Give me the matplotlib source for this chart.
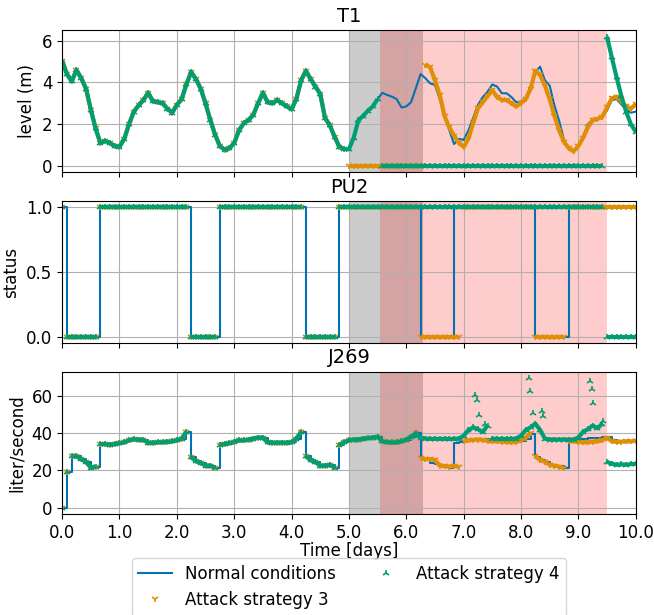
import numpy as np
import matplotlib.pyplot as plt

# time axis: one sample every 2 hours over 10 days
t = np.arange(121) / 12.0

# T1 tank level (m)
t1_normal = [5.04, 4.4, 4.05, 4.59, 4.2, 3.7, 2.7, 1.8, 1.1, 1.2, 1.1, 0.95,
             0.92, 1.3, 2.0, 2.6, 2.9, 3.15, 3.5, 3.1, 3.05, 3.0, 2.75, 2.55,
             2.92, 3.2, 3.9, 4.5, 4.15, 3.7, 3.0, 2.2, 1.5, 0.95, 0.78, 0.85,
             1.1, 1.7, 2.05, 2.2, 2.45, 3.0, 3.5, 3.05, 3.0, 3.15, 3.0, 2.85,
             2.72, 3.2, 4.1, 4.55, 4.15, 3.8, 3.45, 2.3, 1.95, 1.4, 0.92, 0.8,
             0.8, 1.35, 2.2, 2.4, 2.65, 2.85, 3.2, 3.5, 3.4, 3.32, 3.2, 2.8,
             2.85, 3.05, 3.72, 4.4, 4.2, 3.95, 3.88, 3.2, 2.4, 1.72, 1.05, 1.3,
             1.25, 1.7, 2.3, 2.92, 3.3, 3.55, 3.9, 3.8, 3.48, 3.48, 3.3, 3.05,
             3.08, 3.25, 3.8, 4.5, 4.75, 4.1, 3.85, 2.9, 2.15, 1.25, 0.85, 0.7,
             0.95, 1.4, 2.0, 2.22, 2.28, 2.4, 2.65, 3.15, 3.2, 2.95, 2.7, 2.55,
             2.6]
t1_att3_tail = [4.85, 4.72, 4.1, 3.4, 2.4, 1.85, 1.45, 1.1, 0.92, 1.3, 2.05, 2.76,
                3.05, 3.35, 3.62, 3.3, 3.16, 3.16, 3.0, 2.85, 3.0, 3.2, 3.7, 4.55,
                4.35, 3.85, 3.2, 2.4, 1.7, 1.15, 0.85, 0.7, 0.95, 1.35, 1.85, 2.2,
                2.25, 2.35, 2.8, 3.24, 3.32, 3.1, 2.85, 2.75, 2.95]
t1_att4_tail = [6.19, 5.2, 4.25, 3.35, 2.6, 2.0, 1.64]
t1_att3 = t1_normal[:60] + [0.0] * 16 + t1_att3_tail
t1_att4 = t1_normal[:67] + [0.0] * 47 + t1_att4_tail

# PU2 pump status, as (value, number of samples)
pu2_normal_runs = [(1, 1), (0, 7), (1, 19), (0, 6), (1, 18), (0, 7), (1, 17),
                   (0, 7), (1, 17), (0, 7), (1, 15)]
pu2_att3_runs = [(1, 1), (0, 7), (1, 19), (0, 6), (1, 18), (0, 7), (1, 17),
                 (0, 9), (1, 15), (0, 7), (1, 15)]
pu2_att4_runs = [(1, 1), (0, 7), (1, 19), (0, 6), (1, 18), (0, 7), (1, 56), (0, 7)]


def expand(runs):
    return np.repeat([v for v, n in runs], [n for v, n in runs])


pu2_normal = expand(pu2_normal_runs)
pu2_att3 = expand(pu2_att3_runs)
pu2_att4 = expand(pu2_att4_runs)

# J269 flow (liter/second)
j269_normal = [0, 19, 27.5, 27.5, 26, 24.5, 21.5, 22, 34, 34, 33.8, 34,
               34.5, 35, 36, 36.6, 36.5, 36.3, 34.8, 34.8, 35, 35, 35.3, 35.5,
               36, 37, 40.5, 27, 25, 24, 22.5, 22.5, 21.5, 33.8, 34, 34.5,
               35.2, 36, 36, 36.5, 37, 37.5, 37.5, 35, 34.8, 34.8, 34.8, 34.8,
               35, 37, 40.5, 27.5, 25.5, 24.5, 22.5, 22.5, 23, 21.5, 33.6, 35,
               36, 36.5, 36.5, 37, 37.2, 37.5, 38, 35.5, 35, 34.9, 34.9, 35.5,
               36.5, 38, 39.8, 26.5, 25.5, 24, 23.5, 22.5, 22, 21.5, 34.5, 35,
               35.5, 36, 36.3, 36.5, 36.8, 37, 37.2, 35.5, 35.2, 35, 35, 35.2,
               35.5, 37, 39.5, 27.3, 25.5, 24.6, 23, 22.5, 22.5, 21, 36.3, 36.5,
               36.8, 37, 37.2, 37.5, 37.5, 37.8, 38, 36.5, 35.5, 35.5, 35.5, 35.8,
               36]
j269_att3_tail = [26.5, 26, 26, 25.5, 22.5, 22.3, 22, 22.5, 21.8, 35.5, 36, 36.3,
                  36.5, 36.3, 35.8, 35.5, 35.5, 35.3, 35.2, 35, 35.2, 36, 37.5, 40,
                  27.5, 25.5, 24.5, 23, 22.5, 22, 21, 35.5, 35.5, 35.2, 35, 35,
                  35.3, 35.5, 36, 37.5, 35.5, 35.2, 35.3, 35.5, 35.5, 35.8]
j269_att4_tail = [37.5, 37, 36.8, 36.8, 36.8, 36.8, 36.8, 36.8, 37, 38.5, 41.5, 43,
                  42, 40.5, 44, 37, 36.8, 36.8, 36.8, 36.8, 37, 38.5, 41.6, 43,
                  45, 41.6, 37, 36.5, 36.5, 36.5, 36.5, 36.5, 36.5, 37.5, 40.7, 42,
                  44, 42.5, 45, 24.5, 23.5, 23, 23.2, 23, 23.3, 23.5]
j269_att3 = j269_normal[:75] + j269_att3_tail
j269_att4 = j269_normal[:75] + j269_att4_tail
# isolated spikes of attack 4
spike_t = [7.19, 7.24, 7.27, 7.37, 8.14, 8.16, 8.21, 8.36, 8.39, 9.2, 9.23, 9.26, 9.43]
spike_v = [60.4, 57.7, 49.6, 45.0, 69.3, 62.7, 50.6, 52.0, 49.0, 68.0, 63.6, 56.0, 46.5]

blue, orange, green = '#0173b2', '#de8f05', '#029e73'


def band(ax, x, y, thr, color, marker, label=None):
    # dense marker trace: a thick stroke between close samples, markers on top
    x = np.asarray(x, float)
    y = np.asarray(y, float)
    jump = (np.abs(np.diff(y)) > thr) | ((y[:-1] == 0) != (y[1:] == 0))
    cut = np.where(jump)[0] + 1
    for xs, ys in zip(np.split(x, cut), np.split(y, cut)):
        ax.plot(xs, ys, color=color, lw=3, solid_capstyle='butt')
    return ax.plot(x, y, ls='none', marker=marker, color=color, ms=5,
                   mew=1.2, label=label)[0]


plt.rcParams['font.size'] = 12
fig, axes = plt.subplots(3, 1, sharex=True, figsize=(6.54, 6.15), dpi=100)
fig.subplots_adjust(left=0.095, right=0.972, top=0.951, bottom=0.164, hspace=0.2)

for ax in axes:
    ax.axvspan(5.0, 6.3, color='k', alpha=0.2, lw=0)
    ax.axvspan(5.55, 9.5, color='r', alpha=0.2, lw=0)
    ax.grid(True)

ax = axes[0]
h0, = ax.plot(t, t1_normal, color=blue, lw=1.5, label='Normal conditions')
h3 = band(ax, t, t1_att3, 2.0, orange, '1', 'Attack strategy 3')
h4 = band(ax, t, t1_att4, 2.0, green, '2', 'Attack strategy 4')
ax.set_title('T1', fontsize=14)
ax.set_ylabel('level (m)')
ax.set_yticks([0, 2, 4, 6])

ax = axes[1]
ax.plot(t, pu2_normal, color=blue, lw=1.5, drawstyle='steps-post')
band(ax, t, pu2_att3, 0.5, orange, '1')
band(ax, t, pu2_att4, 0.5, green, '2')
ax.set_title('PU2', fontsize=14)
ax.set_ylabel('status')
ax.set_yticks([0, 0.5, 1.0])

ax = axes[2]
ax.plot(t, j269_normal, color=blue, lw=1.5, drawstyle='steps-post')
band(ax, t, j269_att3, 6, orange, '1')
band(ax, t, j269_att4, 6, green, '2')
ax.plot(spike_t, spike_v, ls='none', marker='2', color=green, ms=5, mew=1.2)
ax.set_title('J269', fontsize=14)
ax.set_ylabel('liter/second')
ax.set_yticks([0, 20, 40, 60])
ax.set_xlabel('Time [days]', labelpad=0)
ax.set_xlim(0, 10)
ax.set_xticks(np.arange(0, 11))
ax.xaxis.set_major_formatter(plt.FormatStrFormatter('%.1f'))

axes[2].legend([h0, h3, h4], ['Normal conditions', 'Attack strategy 3', 'Attack strategy 4'],
               ncol=2, loc='upper center', bbox_to_anchor=(0.5, -0.31), borderaxespad=0)

fig.savefig('out.png', dpi=100)
